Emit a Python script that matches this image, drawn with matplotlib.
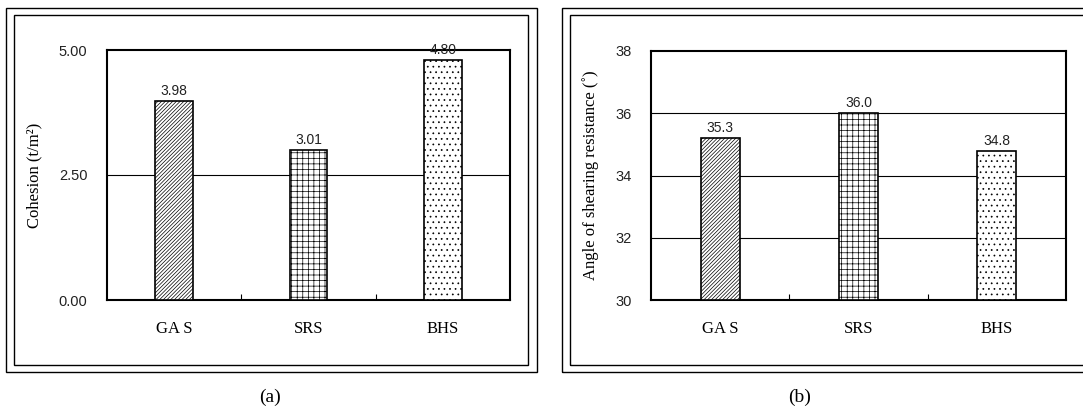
import matplotlib
matplotlib.use('Agg')
import matplotlib.pyplot as plt
from matplotlib.patches import Rectangle

categories = ['GA S', 'SRS', 'BHS']
cohesion = [3.98, 3.01, 4.80]
cohesion_labels = ['3.98', '3.01', '4.80']
friction = [35.2, 36.0, 34.8]
friction_labels = ['35.3', '36.0', '34.8']
hatches = ['/////////', '+++', '...']

W, H = 1083, 412
fig = plt.figure(figsize=(W / 100, H / 100), dpi=100)

def fbox(x0, y0, x1, y1):
    # pixel box -> figure fraction [left, bottom, width, height]
    return [x0 / W, 1 - y1 / H, (x1 - x0) / W, (y1 - y0) / H]

# double-line panel frames
for (ox0, oy0, ox1, oy1), (ix0, iy0, ix1, iy1) in [((6, 8, 537, 372), (14, 15, 528, 365)),
                                                   ((562, 8, 1090, 372), (570, 15, 1090, 365))]:
    for b in (fbox(ox0, oy0, ox1, oy1), fbox(ix0, iy0, ix1, iy1)):
        fig.patches.append(Rectangle((b[0], b[1]), b[2], b[3], transform=fig.transFigure,
                                     fill=False, edgecolor='black', linewidth=1.0))

sans = 'Liberation Sans'
serif = 'Liberation Serif'
plt.rcParams['hatch.linewidth'] = 0.5

def draw_panel(ax, values, labels, ylim, yticks, ytickfmt, ylabel, grid_vals):
    x = [0.5, 1.5, 2.5]
    for xi, v, h in zip(x, values, hatches):
        ax.bar(xi, v - ylim[0], bottom=ylim[0], width=0.28, color='white', edgecolor='black',
               hatch=h, linewidth=1.2, zorder=3)
    for xi, v, lab in zip(x, values, labels):
        ax.text(xi, v + (ylim[1] - ylim[0]) * 0.012, lab, ha='center', va='bottom',
                fontsize=10, family=sans, color='#222222', zorder=4)
    for g in grid_vals:
        ax.axhline(g, color='black', linewidth=0.8, zorder=1)
    ax.set_xlim(0, 3)
    ax.set_ylim(*ylim)
    ax.set_yticks(yticks)
    ax.set_yticklabels([ytickfmt.format(t) for t in yticks], fontsize=10.5, family=sans, color='#222222')
    ax.tick_params(axis='y', length=0, pad=14)
    ax.set_xticks([1, 2])
    ax.set_xticklabels([])
    ax.tick_params(axis='x', direction='in', length=4, width=0.8)
    for xi, c in zip(x, categories):
        ax.text(xi, -0.115, c, transform=ax.get_xaxis_transform(), ha='center', va='center',
                fontsize=12, family=serif)
    for s in ax.spines.values():
        s.set_linewidth(1.5)
    ax.set_ylabel(ylabel, fontsize=12, family=serif, labelpad=12)

ax1 = fig.add_axes(fbox(107, 50, 510, 300))
draw_panel(ax1, cohesion, cohesion_labels, (0, 5), [0, 2.5, 5], '{:.2f}',
           'Cohesion (t/m²)', [2.5])

ax2 = fig.add_axes(fbox(651, 51, 1066, 300))
draw_panel(ax2, friction, friction_labels, (30, 38), [30, 32, 34, 36, 38], '{:.0f}',
           'Angle of shearing resistance (˚)', [32, 34, 36])

fig.text(270 / W, 1 - 397 / H, '(a)', ha='center', va='center', fontsize=14, family=serif)
fig.text(800 / W, 1 - 397 / H, '(b)', ha='center', va='center', fontsize=14, family=serif)

fig.savefig('out.png', dpi=100)
